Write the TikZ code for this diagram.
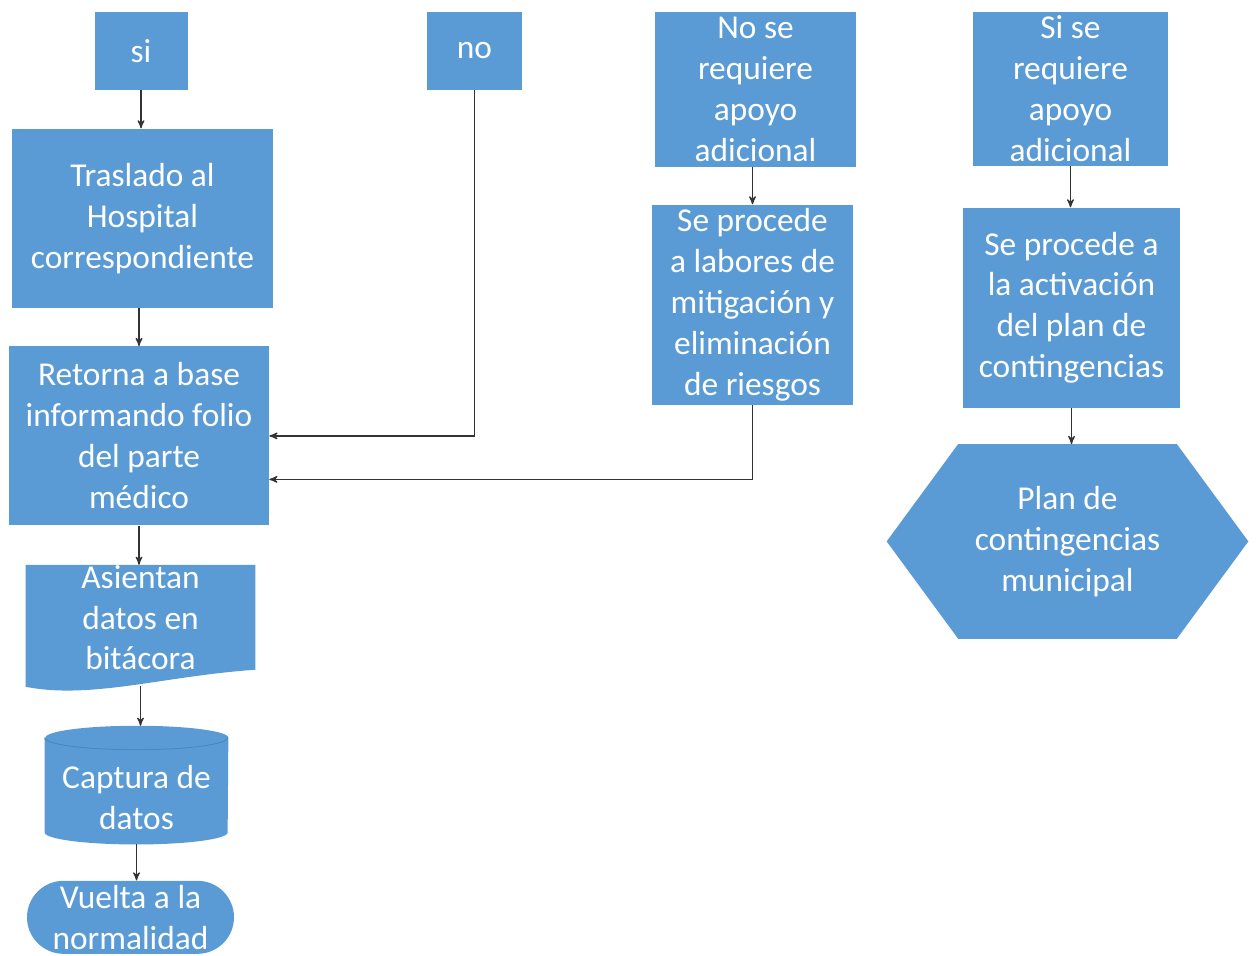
\documentclass[tikz,border=0pt]{standalone}
\usepackage{fontspec}
\setmainfont{Carlito}
\usetikzlibrary{arrows,positioning,shapes.misc,backgrounds}
\definecolor{officeblue}{HTML}{5B9BD5}
\definecolor{rimblue}{HTML}{4A86C0}

\begin{document}
\begin{tikzpicture}[>=stealth', node distance=0.76cm,
  box/.style={rectangle, fill=officeblue, text=white, align=center, inner sep=0pt, font=\fontsize{19}{23.3}\selectfont},
  bare/.style={rectangle, text=white, align=center, inner sep=0pt, font=\fontsize{19}{23.3}\selectfont},
  flow/.style={->, draw=black!80, line width=0.7pt}]
\useasboundingbox (0,0) rectangle (25.14,-19.12);

\node[box, minimum width=1.86cm, minimum height=1.56cm] (si) at (2.82,-1.02) {si};
\node[box, minimum width=1.90cm, minimum height=1.56cm] (no) at (9.49,-1.02) {no};
\node[box, minimum width=4.02cm, minimum height=3.10cm] (nosereq) at (15.11,-1.79) {No se\\requiere\\apoyo\\adicional};
\node[box, minimum width=3.90cm, minimum height=3.08cm] (sisereq) at (21.41,-1.78) {Si se\\requiere\\apoyo\\adicional};

\node[box, minimum width=5.22cm, minimum height=3.58cm, below=of si, xshift=0.03cm] (traslado) {Traslado al\\Hospital\\correspondiente};
\node[box, minimum width=5.20cm, minimum height=3.58cm, below=of traslado, xshift=-0.07cm] (retorna) {Retorna a base\\informando folio\\del parte\\médico};
\node[bare, minimum width=4.58cm, below=0.78cm of retorna, xshift=0.03cm] (asientan) {Asientan\\datos en\\bitácora};
\node[bare, minimum width=3.66cm, minimum height=1.88cm, below=3.70cm of asientan.north, xshift=-0.08cm] (captura) {Captura de\\datos};
\node[box, rounded rectangle, minimum width=4.14cm, minimum height=1.46cm, below=0.72cm of captura, xshift=-0.12cm] (vuelta) {Vuelta a la\\normalidad};

\node[box, minimum width=4.02cm, minimum height=4.00cm, below=0.74cm of nosereq, xshift=-0.06cm] (labores) {Se procede\\a labores de\\mitigación y\\eliminación\\de riesgos};
\node[box, minimum width=4.34cm, minimum height=4.00cm, below=0.82cm of sisereq, xshift=0.02cm] (activacion) {Se procede a\\la activación\\del plan de\\contingencias};
\node[bare, minimum width=7.22cm, minimum height=3.88cm, below=0.72cm of activacion, xshift=-0.08cm] (plan) {Plan de\\contingencias\\municipal};

\begin{scope}[on background layer]
\fill[officeblue] (asientan.north west) -- (asientan.north east) -- ([yshift=-2.10cm]asientan.north east)
  .. controls ([shift={(-1.8cm,-2.22cm)}]asientan.north east) and ([shift={(1.3cm,-2.70cm)}]asientan.north west)
  .. ([yshift=-2.44cm]asientan.north west) -- cycle;
\fill[officeblue] ([yshift=0.24cm]captura.north west) -- ([yshift=0.24cm]captura.south west)
  arc[start angle=180, end angle=360, x radius=1.83cm, y radius=0.24cm]
  -- ([yshift=0.24cm]captura.north east)
  arc[start angle=0, end angle=180, x radius=1.83cm, y radius=0.24cm] -- cycle;
\draw[rimblue, line width=0.5pt] ([yshift=0.24cm]captura.north west)
  arc[start angle=180, end angle=360, x radius=1.83cm, y radius=0.24cm];
\fill[officeblue] (plan.west) -- ([xshift=1.43cm]plan.north west) -- ([xshift=-1.43cm]plan.north east)
  -- (plan.east) -- ([xshift=-1.43cm]plan.south east) -- ([xshift=1.43cm]plan.south west) -- cycle;
\end{scope}

\coordinate (wavefoot) at ([yshift=-2.42cm]asientan.north);
\coordinate (captop) at ([yshift=0.48cm]captura.north);
\coordinate (lowentry) at ([yshift=-0.87cm]retorna.east);

\draw[flow] (si.south) -- (si.south |- traslado.north);
\draw[flow] (retorna.north |- traslado.south) -- (retorna.north);
\draw[flow] (retorna.south) -- (retorna.south |- asientan.north);
\draw[flow] (wavefoot) -- (wavefoot |- captop);
\draw[flow] (captura.south) -- (captura.south |- vuelta.north);
\draw[flow] (no.south) |- (retorna.east);
\draw[flow] (labores.south) |- (lowentry);
\draw[flow] (labores.north |- nosereq.south) -- (labores.north);
\draw[flow] (sisereq.south) -- (sisereq.south |- activacion.north);
\draw[flow] (activacion.south) -- (activacion.south |- plan.north);
\end{tikzpicture}
\end{document}
